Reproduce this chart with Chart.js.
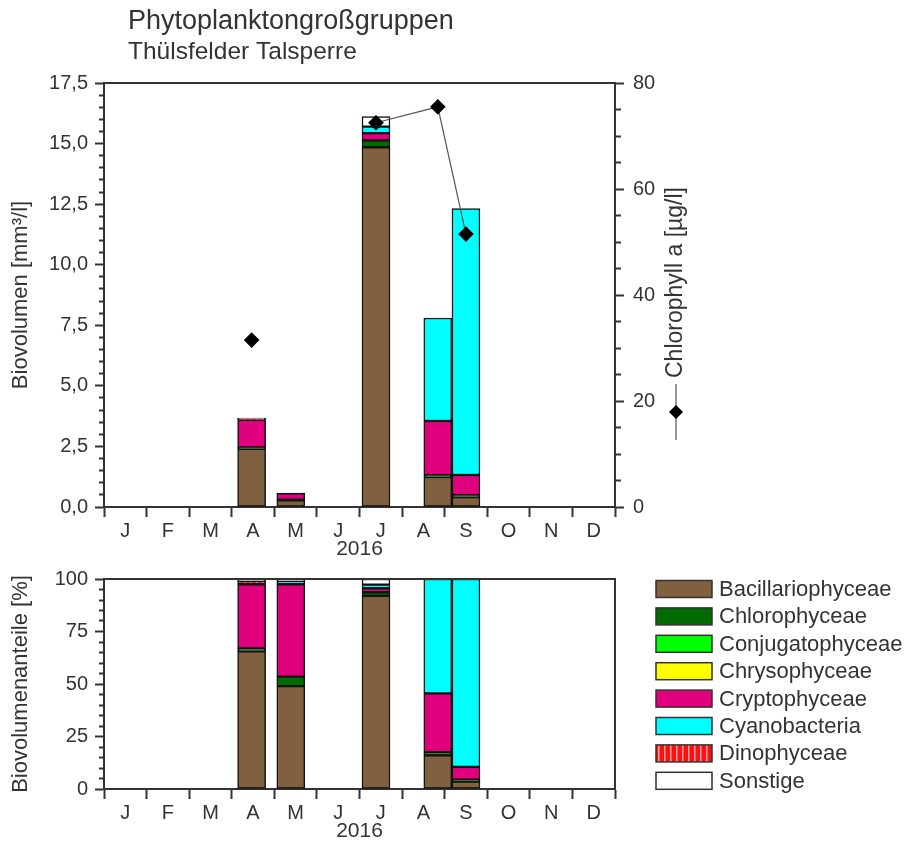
<!DOCTYPE html>
<html>
<head>
<meta charset="utf-8">
<script src="https://cdn.jsdelivr.net/npm/chart.js@4.4.1/dist/chart.umd.min.js"></script>
<style>
html, body { margin: 0; padding: 0; background: #fff; }
#wrap { position: relative; width: 911px; height: 845px; }
#topChart { position: absolute; left: 0; top: 0; }
#bottomChart { position: absolute; left: 0; top: 560px; }
</style>
</head>
<body>
<div id="wrap">
  <canvas id="topChart" width="911" height="560"></canvas>
  <canvas id="bottomChart" width="911" height="285"></canvas>
</div>
<script>
// --- data ---
const sampleDates = ['2016-04-15', '2016-05-13', '2016-07-13', '2016-08-27', '2016-09-16'];
const monthLabels = ['J', 'F', 'M', 'A', 'M', 'J', 'J', 'A', 'S', 'O', 'N', 'D'];
const yearLabel = '2016';
const groups = ['Bacillariophyceae', 'Chlorophyceae', 'Conjugatophyceae', 'Chrysophyceae',
                'Cryptophyceae', 'Cyanobacteria', 'Dinophyceae', 'Sonstige'];

// biovolume [mm³/l]
const bacillario = [2.40, 0.28, 14.85, 1.24, 0.41];
const chloro     = [0.06, 0.025, 0.28, 0.07, 0.08];
const conjugato  = [0, 0, 0, 0, 0];
const chryso     = [0, 0, 0, 0, 0];
const crypto     = [1.14, 0.255, 0.30, 2.24, 0.83];
const cyano      = [0, 0.01, 0.27, 4.25, 11.0];
const dino       = [0.05, 0, 0, 0, 0];
const sonstige   = [0.02, 0.005, 0.41, 0, 0];

// share of biovolume [%]
const bacillarioPct = [65.5, 49, 92, 16, 3.5];
const chloroPct     = [1.5, 4.5, 1.7, 1.5, 1];
const conjugatoPct  = [0, 0, 0, 0, 0];
const chrysoPct     = [0, 0, 0, 0, 0];
const cryptoPct     = [30.5, 44, 1.9, 28, 6];
const cyanoPct      = [0, 1.5, 1.7, 54.5, 89.5];
const dinoPct       = [1.5, 0, 0, 0, 0];
const sonstigePct   = [1, 1, 2.7, 0, 0];

// chlorophyll a [µg/l], no value in May
const chlorophyllA = [31.5, null, 72.5, 75.5, 51.5];

const textColor = '#333';
const axisColor = '#333';
Chart.defaults.font.family = '"Liberation Sans", Arial, sans-serif';
Chart.defaults.color = textColor;

// striped red for Dinophyceae
const pc = document.createElement('canvas');
pc.width = 6; pc.height = 4;
const pctx = pc.getContext('2d');
pctx.fillStyle = '#ff1010'; pctx.fillRect(0, 0, 6, 4);
pctx.fillStyle = '#ffa0a0'; pctx.fillRect(4, 0, 1.5, 4);
const dinoFill = pctx.createPattern(pc, 'repeat');

const groupColors = ['#80603f', '#006b00', '#00ff00', '#ffff00', '#e0007e', '#00ffff', dinoFill, '#ffffff'];

// position of a date on a 0..12 month axis
function monthPos(d) {
  const [y, m, day] = d.split('-').map(Number);
  const dim = new Date(y, m, 0).getDate();
  return (m - 1) + (day - 1) / dim;
}
const xs = sampleDates.map(monthPos);

function barSets(series) {
  return series.map((vals, i) => ({
    type: 'bar',
    label: groups[i],
    data: vals.map((v, j) => ({ x: xs[j], y: v || null })),
    backgroundColor: groupColors[i],
    borderColor: '#111',
    borderWidth: 1.5,
    borderSkipped: false,
    barThickness: 28,
    stack: 'all',
    yAxisID: 'y',
    order: 1
  }));
}

function monthAxis(h, titleBottom) {
  return {
    type: 'linear', min: 0, max: 12, offset: false,
    grid: {
      drawOnChartArea: false, offset: false, tickLength: 10, tickWidth: 2,
      tickColor: c => (c.tick && c.tick.value % 1 === 0) ? axisColor : 'rgba(0,0,0,0)'
    },
    border: { color: axisColor, width: 2 },
    ticks: {
      stepSize: 0.5, autoSkip: false, maxRotation: 0, padding: 2, color: textColor,
      font: { size: 20 },
      callback: v => (Math.abs(v % 1 - 0.5) < 1e-6) ? monthLabels[Math.floor(v)] : ''
    },
    title: { display: true, text: yearLabel, color: textColor, font: { size: 21, lineHeight: 1 },
             padding: { top: 0, bottom: titleBottom } },
    afterFit: s => { s.height = h; }
  };
}

function valueAxis(opt) {
  const left = opt.position === 'left';
  return {
    type: 'linear', position: opt.position, min: 0, max: opt.max, stacked: opt.stacked,
    grid: {
      drawOnChartArea: false, tickLength: 9, tickWidth: 2, tickColor: axisColor,
      tickBorderDash: c => {
        const major = Math.abs(c.tick.value / opt.major - Math.round(c.tick.value / opt.major)) < 1e-6;
        if (major) return [];
        return left ? [0, 4, 5, 100] : [5, 100];
      }
    },
    border: { color: axisColor, width: 2 },
    ticks: {
      stepSize: opt.minor, autoSkip: false, padding: left ? 7 : 9, color: textColor, font: { size: 20 },
      callback: v => (Math.abs(v / opt.major - Math.round(v / opt.major)) < 1e-6) ? opt.fmt(v) : ''
    },
    title: opt.title ? { display: true, text: opt.title, color: textColor, font: { size: 22, lineHeight: 1 },
                         padding: { top: 10, bottom: 0 } } : { display: false },
    afterFit: s => { s.width = opt.width; }
  };
}

const framePlugin = {
  id: 'frame',
  afterDraw(chart) {
    const { ctx, chartArea: a } = chart;
    ctx.save();
    ctx.strokeStyle = axisColor;
    ctx.lineWidth = 2;
    ctx.beginPath();
    ctx.moveTo(a.left - 1, a.top); ctx.lineTo(a.right + 1, a.top);
    ctx.moveTo(a.right, a.top); ctx.lineTo(a.right, a.bottom);
    ctx.stroke();
    ctx.restore();
  }
};

const headerPlugin = {
  id: 'header',
  afterDraw(chart) {
    const ctx = chart.ctx;
    ctx.save();
    ctx.fillStyle = textColor;
    ctx.textBaseline = 'alphabetic';
    ctx.textAlign = 'left';
    ctx.font = '27px "Liberation Sans", Arial, sans-serif';
    ctx.fillText('Phytoplanktongroßgruppen', 128, 29);
    ctx.font = '24.5px "Liberation Sans", Arial, sans-serif';
    ctx.fillText('Thülsfelder Talsperre', 128, 59);

    // right axis title with line symbol
    ctx.translate(676, 412);
    ctx.rotate(-Math.PI / 2);
    ctx.strokeStyle = '#555';
    ctx.lineWidth = 1.2;
    ctx.beginPath(); ctx.moveTo(-28, 0); ctx.lineTo(28, 0); ctx.stroke();
    ctx.fillStyle = '#000';
    ctx.beginPath(); ctx.moveTo(0, -7); ctx.lineTo(7, 0); ctx.lineTo(0, 7); ctx.lineTo(-7, 0); ctx.closePath(); ctx.fill();
    ctx.fillStyle = textColor;
    ctx.textBaseline = 'middle';
    ctx.font = '23px "Liberation Sans", Arial, sans-serif';
    ctx.fillText('Chlorophyll a [µg/l]', 34, 0);
    ctx.restore();
  }
};

const legendPlugin = {
  id: 'sideLegend',
  afterDraw(chart) {
    const ctx = chart.ctx;
    ctx.save();
    chart.data.datasets.forEach((ds, i) => {
      const y = 29 + i * 27.4;
      ctx.fillStyle = ds.backgroundColor;
      ctx.fillRect(656, y - 8.5, 56, 17);
      ctx.strokeStyle = '#333';
      ctx.lineWidth = 1.5;
      ctx.strokeRect(656, y - 8.5, 56, 17);
      ctx.fillStyle = textColor;
      ctx.font = '22px "Liberation Sans", Arial, sans-serif';
      ctx.textBaseline = 'middle';
      ctx.textAlign = 'left';
      ctx.fillText(ds.label, 719, y + 1);
    });
    ctx.restore();
  }
};

const fmtComma = v => v.toFixed(1).replace('.', ',');

new Chart(document.getElementById('topChart'), {
  type: 'bar',
  data: {
    datasets: [
      {
        type: 'line',
        label: 'Chlorophyll a',
        data: chlorophyllA.map((v, j) => ({ x: xs[j], y: v })),
        yAxisID: 'y2',
        borderColor: '#555',
        borderWidth: 1.2,
        pointStyle: 'rectRot',
        pointRadius: 7,
        pointBackgroundColor: '#000',
        pointBorderColor: '#000',
        spanGaps: false,
        order: 0
      },
      ...barSets([bacillario, chloro, conjugato, chryso, crypto, cyano, dino, sonstige])
    ]
  },
  options: {
    responsive: false,
    animation: false,
    layout: { padding: { top: 83, left: 0, right: 0, bottom: 0 } },
    plugins: { legend: { display: false }, tooltip: { enabled: false } },
    scales: {
      x: monthAxis(53, 0),
      y: valueAxis({ position: 'left', max: 17.5, minor: 0.5, major: 2.5, stacked: true, width: 104,
                     fmt: fmtComma, title: 'Biovolumen [mm³/l]' }),
      y2: valueAxis({ position: 'right', max: 80, minor: 5, major: 20, stacked: false, width: 296,
                      fmt: v => String(v) })
    }
  },
  plugins: [framePlugin, headerPlugin]
});

new Chart(document.getElementById('bottomChart'), {
  type: 'bar',
  data: {
    datasets: barSets([bacillarioPct, chloroPct, conjugatoPct, chrysoPct, cryptoPct, cyanoPct, dinoPct, sonstigePct])
  },
  options: {
    responsive: false,
    animation: false,
    layout: { padding: { top: 19, left: 0, right: 296, bottom: 0 } },
    plugins: { legend: { display: false }, tooltip: { enabled: false } },
    scales: {
      x: monthAxis(56, 3.5),
      y: valueAxis({ position: 'left', max: 100, minor: 5, major: 25, stacked: true, width: 104,
                     fmt: v => String(v), title: 'Biovolumenanteile [%]' })
    }
  },
  plugins: [framePlugin, legendPlugin]
});
</script>
</body>
</html>
